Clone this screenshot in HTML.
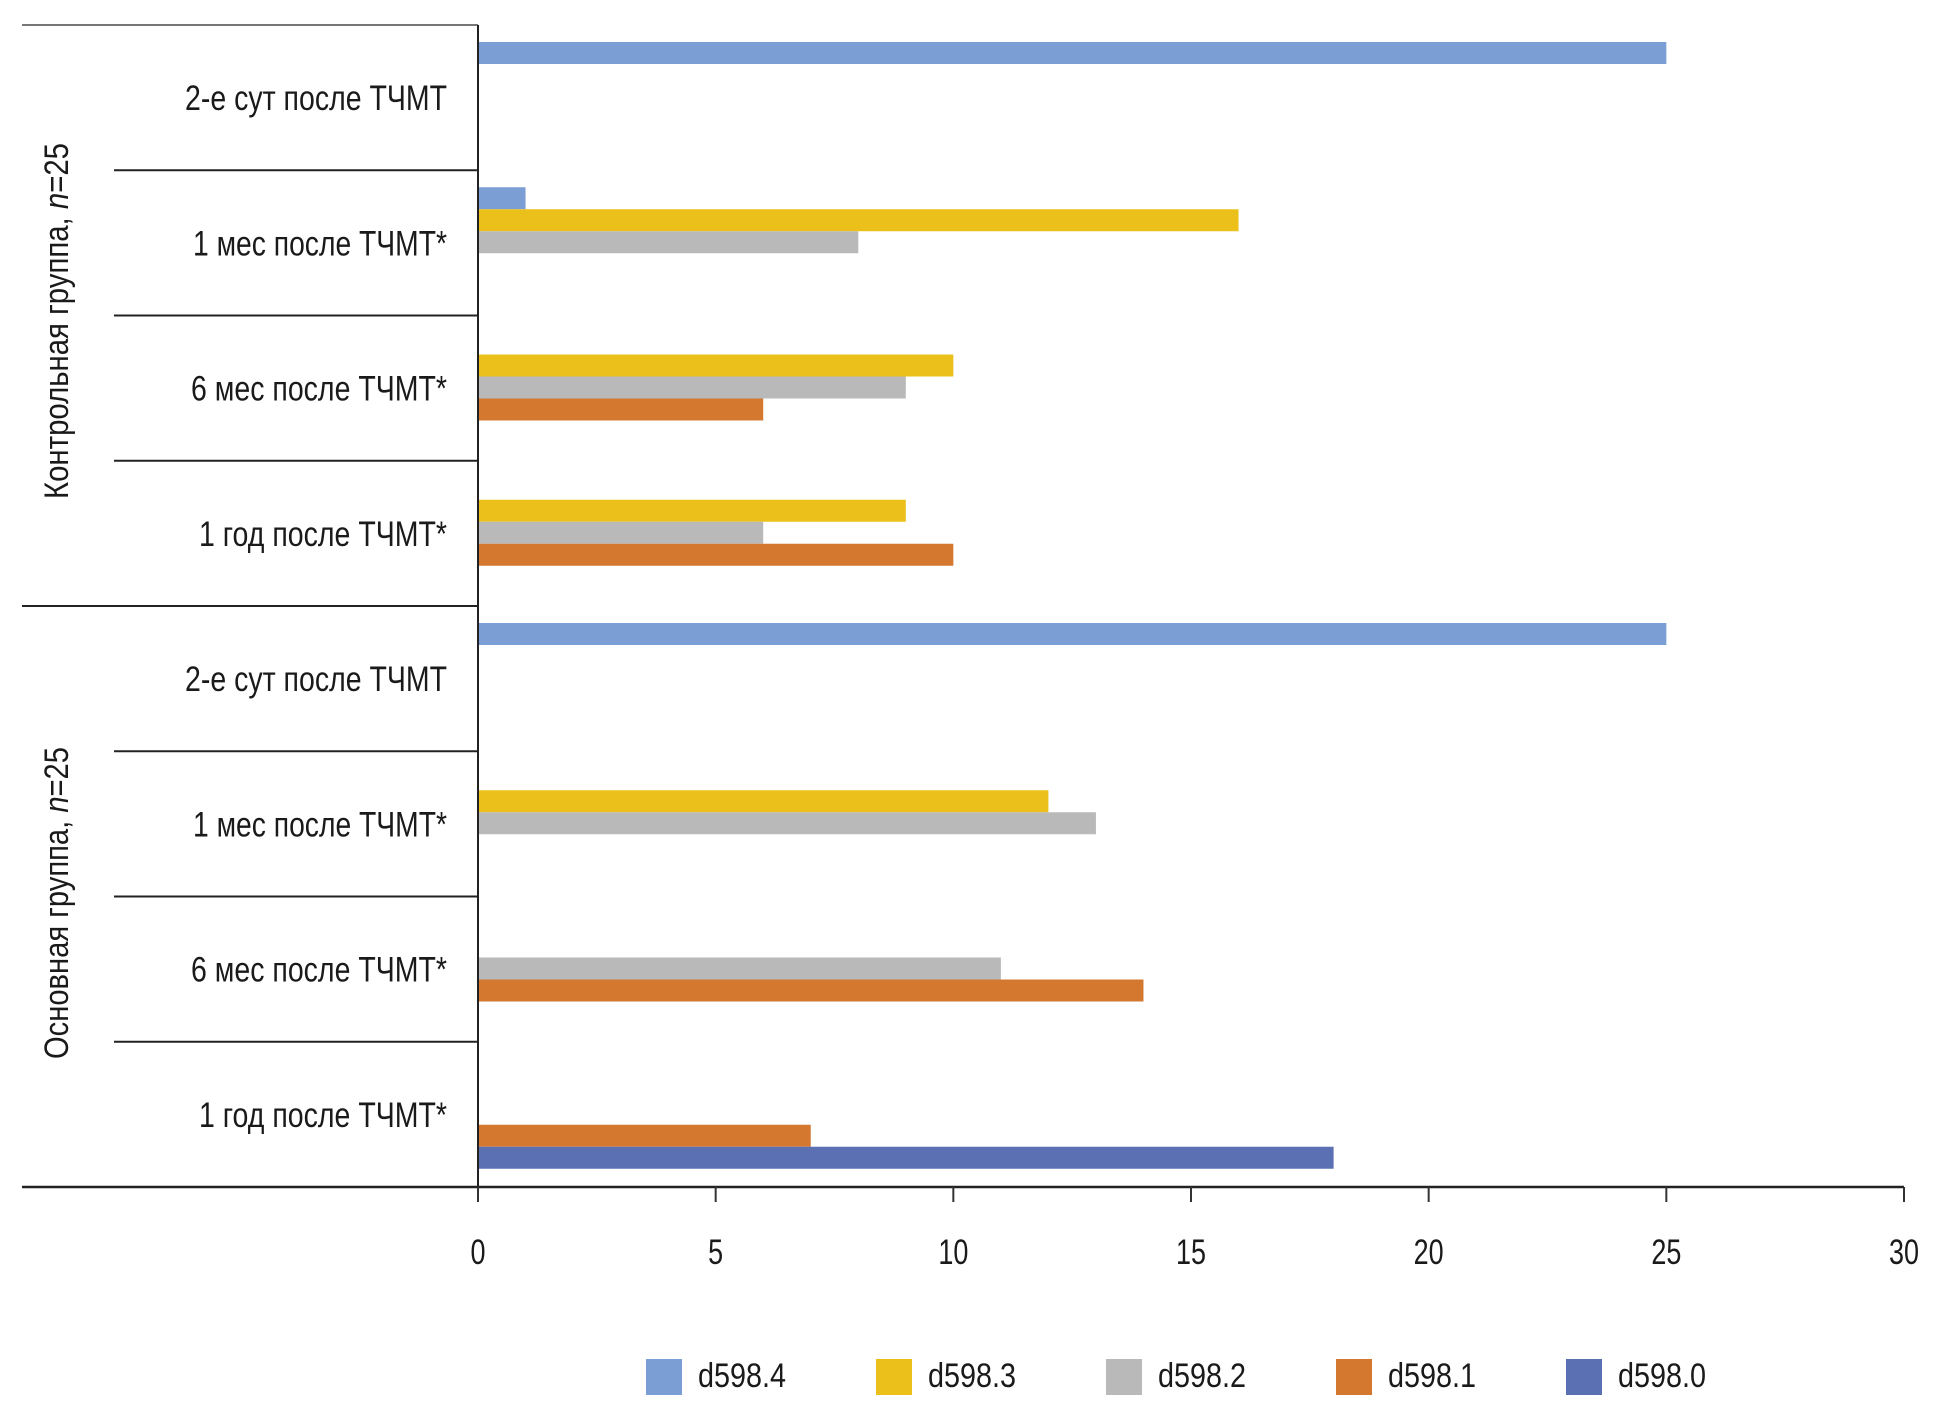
<!DOCTYPE html>
<html><head><meta charset="utf-8">
<style>
html,body{margin:0;padding:0;background:#fff;}
svg{display:block;font-family:"Liberation Sans",sans-serif;}
</style></head>
<body>
<svg id="chart" width="1948" height="1408" viewBox="0 0 1948 1408" xmlns="http://www.w3.org/2000/svg">
<g id="grid"></g>
<g id="bars"></g>
<g id="labels"></g>
<g id="xaxis"></g>
<g id="legend"></g>
</svg>
<script>
const categories = ["2-е сут после ТЧМТ","1 мес после ТЧМТ*","6 мес после ТЧМТ*","1 год после ТЧМТ*","2-е сут после ТЧМТ","1 мес после ТЧМТ*","6 мес после ТЧМТ*","1 год после ТЧМТ*"];
const groups = ["Контрольная группа, ","Основная группа, "];
const seriesNames = ["d598.4","d598.3","d598.2","d598.1","d598.0"];
const s4 = [25,1,0,0,25,0,0,0];
const s3 = [0,16,10,9,0,12,0,0];
const s2 = [0,8,9,6,0,13,11,0];
const s1 = [0,0,6,10,0,0,14,7];
const s0 = [0,0,0,0,0,0,0,18];
const xTicks = [0,5,10,15,20,25,30];

const series = [s4,s3,s2,s1,s0];
const colors = ["#7b9fd4","#ebc01a","#b9b9b9","#d4772f","#5a70b3"];
const NS = "http://www.w3.org/2000/svg";
const X0 = 478, X1 = 1904, XMAX = 30, TOP = 25, AXISY = 1187;
const catH = (AXISY - TOP) / categories.length;
function xs(v){ return X0 + v / XMAX * (X1 - X0); }
function el(tag, attrs, parent){ const e = document.createElementNS(NS, tag); for (const k in attrs) e.setAttribute(k, attrs[k]); parent.appendChild(e); return e; }

const grid = document.getElementById('grid');
const bars = document.getElementById('bars');
const labels = document.getElementById('labels');
const xaxis = document.getElementById('xaxis');
const legend = document.getElementById('legend');

// frame lines
let ln = el('line',{x1:22,y1:TOP,x2:X0,y2:TOP,stroke:'#777','stroke-width':2},grid);


ln = el('line',{x1:X0,y1:TOP,x2:X0,y2:AXISY+15,stroke:'#222','stroke-width':2},grid);


for (let i = 1; i < categories.length; i++) {
  const y = TOP + i * catH;
  const l = el('line',{x1:(i===4?22:114),y1:y,x2:X0,y2:y,stroke:'#222','stroke-width':2},grid);
  
  
}

// bars
series.forEach((arr, si) => {
  arr.forEach((v, ci) => {
    if (!v) return;
    const y = TOP + ci * catH + 17 + si * 22;
    const r = el('rect',{x:X0+1,y:y,width:xs(v)-X0-1,height:22,fill:colors[si]},bars);
    
    
  });
});

// category labels
const lens = {"2-е сут после ТЧМТ":262,"1 мес после ТЧМТ*":254,"6 мес после ТЧМТ*":256,"1 год после ТЧМТ*":248};
categories.forEach((c, ci) => {
  const t = el('text',{x:447,y:TOP+ci*catH+85,'text-anchor':'end','font-size':35,fill:'#1a1a1a',textLength:lens[c],lengthAdjust:'spacingAndGlyphs'},labels);
  t.textContent = c;
  
  
});

// group labels
const gCenters = [321, 903], gLens = [356, 312];
groups.forEach((g, gi) => {
  const t = el('text',{x:0,y:0,'text-anchor':'middle','font-size':34,fill:'#1a1a1a',transform:'translate(68,'+gCenters[gi]+') rotate(-90)',textLength:gLens[gi],lengthAdjust:'spacingAndGlyphs'},labels);
  t.textContent = g;
  const ts = el('tspan',{'font-style':'italic'},t);
  ts.textContent = 'n';
  const ts2 = el('tspan',{},t);
  ts2.textContent = '=25';
  
  
});

// x axis
ln = el('line',{x1:22,y1:AXISY,x2:X1,y2:AXISY,stroke:'#222','stroke-width':2.5},xaxis);


xTicks.forEach(v => {
  const x = xs(v);
  const tk = el('line',{x1:x,y1:AXISY,x2:x,y2:AXISY+15,stroke:'#333','stroke-width':2},xaxis);
  
  
  const s = String(v);
  const t = el('text',{x:x,y:1264,'text-anchor':'middle','font-size':35,fill:'#1a1a1a',textLength:s.length*15,lengthAdjust:'spacingAndGlyphs'},xaxis);
  t.textContent = s;
  
  
});

// legend
seriesNames.forEach((n, i) => {
  const x = 646 + i * 230;
  const g = el('g',{},legend);
  
  
  el('rect',{x:x,y:1359,width:36,height:36,fill:colors[i]},g);
  const t = el('text',{x:x+52,y:1387,'font-size':34,fill:'#1a1a1a',textLength:88,lengthAdjust:'spacingAndGlyphs'},g);
  t.textContent = n;
});
</script>
</body></html>
